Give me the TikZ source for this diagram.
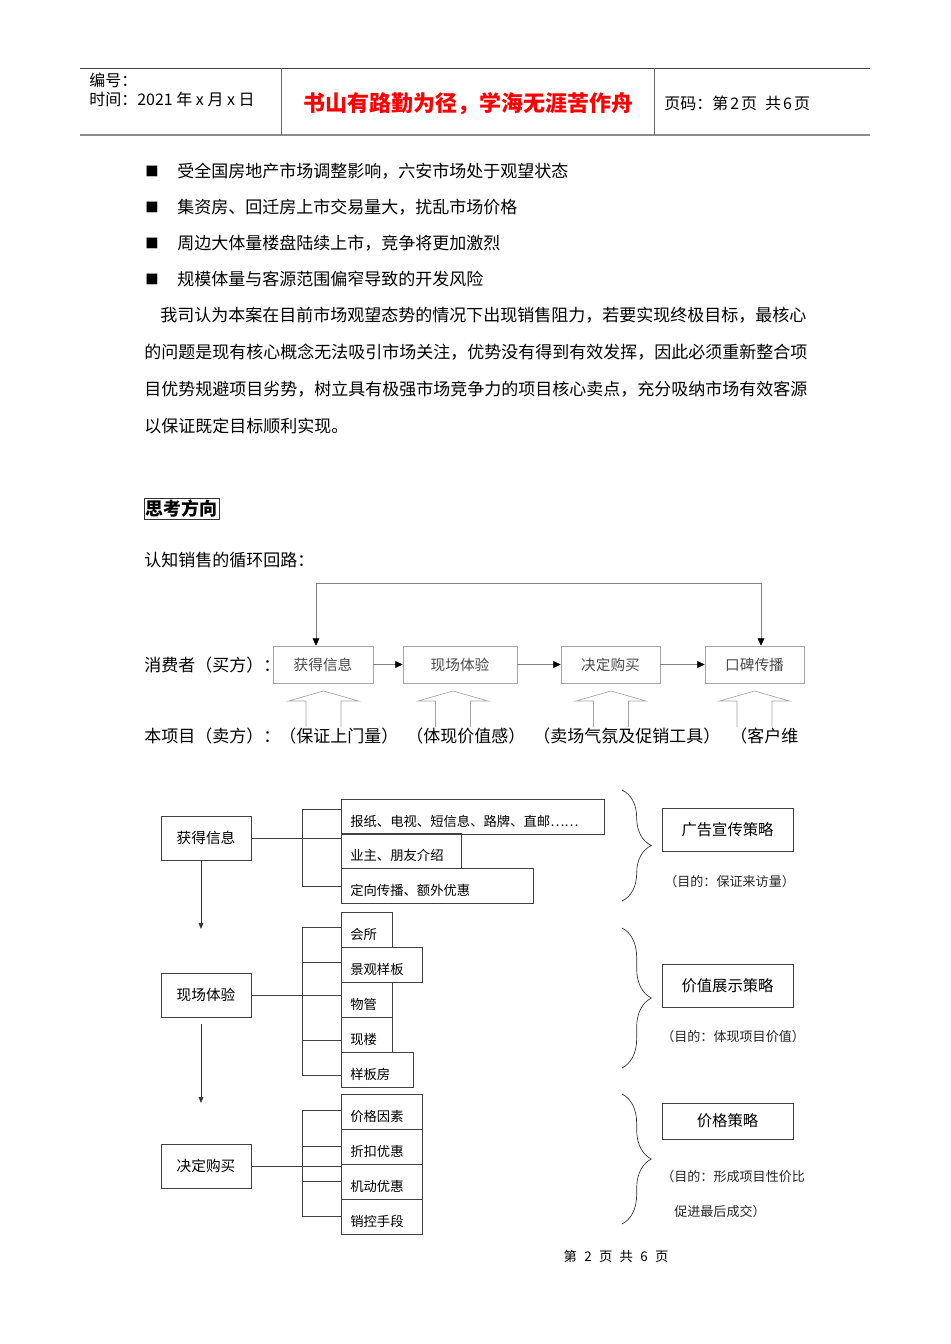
\documentclass[tikz,border=0pt]{standalone}
\usepackage{fontspec}
\setmainfont{Noto Sans CJK SC}
\usetikzlibrary{arrows.meta,positioning,decorations.pathreplacing}

\begin{document}
\begin{tikzpicture}[x=0.75pt,y=-0.75pt,
    body/.style={anchor=west,inner sep=0pt,font=\fontsize{12.75}{15}\selectfont},
    hdr/.style={anchor=west,inner sep=0pt,font=\fontsize{12}{14}\selectfont},
    cyc/.style={draw=black!35,text=black!70,minimum height=27.75pt,inner sep=0pt,font=\fontsize{11}{13}\selectfont},
    flow/.style={black!50,line width=0.5pt,-{Triangle[length=5.5pt,width=5pt,color=black]}},
    hollow/.style={black!35,line width=0.5pt},
    stage/.style={draw=black!75,minimum width=67.5pt,minimum height=33pt,inner sep=0pt,font=\fontsize{11}{13}\selectfont},
    item/.style={draw=black!75,anchor=north west,minimum height=26.25pt,inner xsep=6.75pt,inner ysep=0pt,
      text height=1.45em,text depth=0pt,align=left,font=\fontsize{10}{12}\selectfont},
    tree/.style={black!75,line width=0.5pt},
    down/.style={black!80,line width=0.5pt,-{Triangle[length=4.5pt,width=3.5pt]}},
    curly/.style={black!80,line width=0.5pt,decorate,decoration={brace,amplitude=22pt}},
    strat/.style={draw=black!75,minimum width=98.25pt,inner sep=0pt,font=\fontsize{11.5}{13}\selectfont},
    goal/.style={anchor=west,inner sep=0pt,text=black!85,font=\fontsize{9.8}{11}\selectfont}
]

% Page
\fill[white] (0,0) rectangle (950,1344);
\useasboundingbox (0,0) rectangle (950,1344);

% Header
\draw[black!75,line width=0.6pt] (80,68) -- (870,68);
\draw[black!45,line width=1.6pt] (80,135) -- (870,135);
\draw[black!60,line width=0.6pt] (281,68) -- (281,135) (654,68) -- (654,135);
\node[hdr] (serial) at (89,80) {编号：};
\node[hdr] (date) at (89,99) {时间：2021 年 x 月 x 日};
\node[text=red,font=\fontsize{16.5}{18}\selectfont\bfseries] (motto) at (468,104) {书山有路勤为径，学海无涯苦作舟};
\node[hdr] (pageno) at (664,103) {页码：第\kern1.5pt 2\kern1.5pt 页\enspace 共\kern1.5pt 6\kern1.5pt 页};

% Risks
\foreach \y/\t [count=\i] in {171/受全国房地产市场调整影响，六安市场处于观望状态,207/集资房、回迁房上市交易量大，扰乱市场价格,243/周边大体量楼盘陆续上市，竞争将更加激烈,279/规模体量与客源范围偏窄导致的开发风险}{
  \node[body,font=\fontsize{10}{12}\selectfont] (dot\i) at (145,\y) {■};
  \node[body] (risk\i) at (177,\y) {\t};
}

% Paragraph
\node[body] (para1) at (160,315) {我司认为本案在目前市场观望态势的情况下出现销售阻力，若要实现终极目标，最核心};
\node[body] (para2) at (144,352) {的问题是现有核心概念无法吸引市场关注，优势没有得到有效发挥，因此必须重新整合项};
\node[body] (para3) at (144,389) {目优势规避项目劣势，树立具有极强市场竞争力的项目核心卖点，充分吸纳市场有效客源};
\node[body] (para4) at (144,426) {以保证既定目标顺利实现。};

% Heading
\node[draw=black!80,anchor=west,inner sep=1.2pt,font=\fontsize{13.5}{15}\selectfont\bfseries] (think) at (144,509) {思考方向};
\node[body] (loop) at (144,560) {认知销售的循环回路：};

% Buying cycle
\node[cyc,minimum width=75pt] (get) at (323,664.5) {获得信息};
\node[cyc,minimum width=85.5pt] (see) at (460,664.5) {现场体验};
\node[cyc,minimum width=74.25pt] (buy) at (610.5,664.5) {决定购买};
\node[cyc,minimum width=74.25pt] (wom) at (754.5,664.5) {口碑传播};
\draw[flow] (get) -- (see);
\draw[flow] (see) -- (buy);
\draw[flow] (buy) -- (wom);
\coordinate (loopL) at (316,583);
\coordinate (loopR) at (761,583);
\draw[flow] (loopL) -- (loopL |- get.north);
\draw[flow] (loopL) -- (loopR) -- (loopR |- wom.north);

\node[body] (buyer) at (144,665) {消费者（买方）：};
\node[body] (seller) at (144,736) {本项目（卖方）：};
\node[body] (act1) at (279,736) {（保证上门量）};
\node[body] (act2) at (406,736) {（体现价值感）};
\node[body] (act3) at (533,736) {（卖场气氛及促销工具）};
\node[body] (act4) at (730,736) {（客户维};

% Hollow arrows
\foreach \c in {323.5,453,611,754.5}
  \draw[hollow] ({\c-17.5},727) -- ({\c-17.5},701) -- ({\c-35},701) -- (\c,691)
    -- ({\c+35},701) -- ({\c+17.5},701) -- ({\c+17.5},727);

% Stages
\node[stage] (info) at (206,838) {获得信息};
\node[stage] (site) at (206,995) {现场体验};
\node[stage] (deal) at (206,1166) {决定购买};
\coordinate (infoEnd) at (201,929);
\draw[down] (info.south -| infoEnd) -- (infoEnd);
\coordinate (siteStart) at (201,1024);
\coordinate (siteEnd) at (201,1103);
\draw[down] (siteStart) -- (siteEnd);

% Stage 1 items
\node[item,text width=183.75pt] (news) at (341,799) {报纸、电视、短信息、路牌、直邮……};
\node[item,text width=76.5pt] (owner) at (341,833) {业主、朋友介绍};
\node[item,text width=130.5pt] (target) at (341,868) {定向传播、额外优惠};
\draw[tree] (info.east) -- (info.east -| news.west);
\draw[tree] (341,809) -- (302,809) -- (302,886) -- (341,886);

% Stage 2 items
\node[item,text width=24.75pt] (club) at (341,912) {会所};
\node[item,text width=47.25pt] (garden) at (341,947) {景观样板};
\node[item,text width=24.75pt] (mgmt) at (341,982) {物管};
\node[item,text width=24.75pt] (ready) at (341,1017) {现楼};
\node[item,text width=40.5pt] (model) at (341,1052) {样板房};
\draw[tree] (site.east) -- (site.east -| club.west);
\draw[tree] (341,927) -- (302,927) -- (302,1075) -- (341,1075);
\draw[tree] (302,962) -- (341,962) (302,1040) -- (341,1040);

% Stage 3 items
\node[item,text width=47.25pt] (factor) at (341,1094) {价格因素};
\node[item,text width=47.25pt] (discount) at (341,1129) {折扣优惠};
\node[item,text width=47.25pt] (flexible) at (341,1164) {机动优惠};
\node[item,text width=47.25pt] (control) at (341,1199) {销控手段};
\draw[tree] (deal.east) -- (deal.east -| factor.west);
\draw[tree] (341,1110) -- (302,1110) -- (302,1216) -- (341,1216);
\draw[tree] (302,1146) -- (341,1146) (302,1181) -- (341,1181);

% Braces
\draw[curly] (622,790) -- (622,901);
\draw[curly] (622,928) -- (622,1068);
\draw[curly] (622,1094) -- (622,1224);

% Strategies
\node[strat,minimum height=32.25pt] (ad) at (727.5,829.5) {广告宣传策略};
\node[goal] (adgoal) at (664,882) {（目的：保证来访量）};
\node[strat,minimum height=32.25pt] (value) at (727.5,985.5) {价值展示策略};
\node[goal] (valgoal) at (661,1037) {（目的：体现项目价值）};
\node[strat,minimum height=27pt] (price) at (727.5,1121) {价格策略};
\node[goal] (pricegoal) at (661,1177) {（目的：形成项目性价比};
\node[goal] (pricegoal2) at (674,1212) {促进最后成交）};

% Footer
\node[font=\fontsize{10}{12}\selectfont] (footer) at (616,1256) {第\hspace{5.5pt}2\hspace{5.5pt}页\hspace{5.5pt}共\hspace{5.5pt}6\hspace{5.5pt}页};

\end{tikzpicture}
\end{document}
